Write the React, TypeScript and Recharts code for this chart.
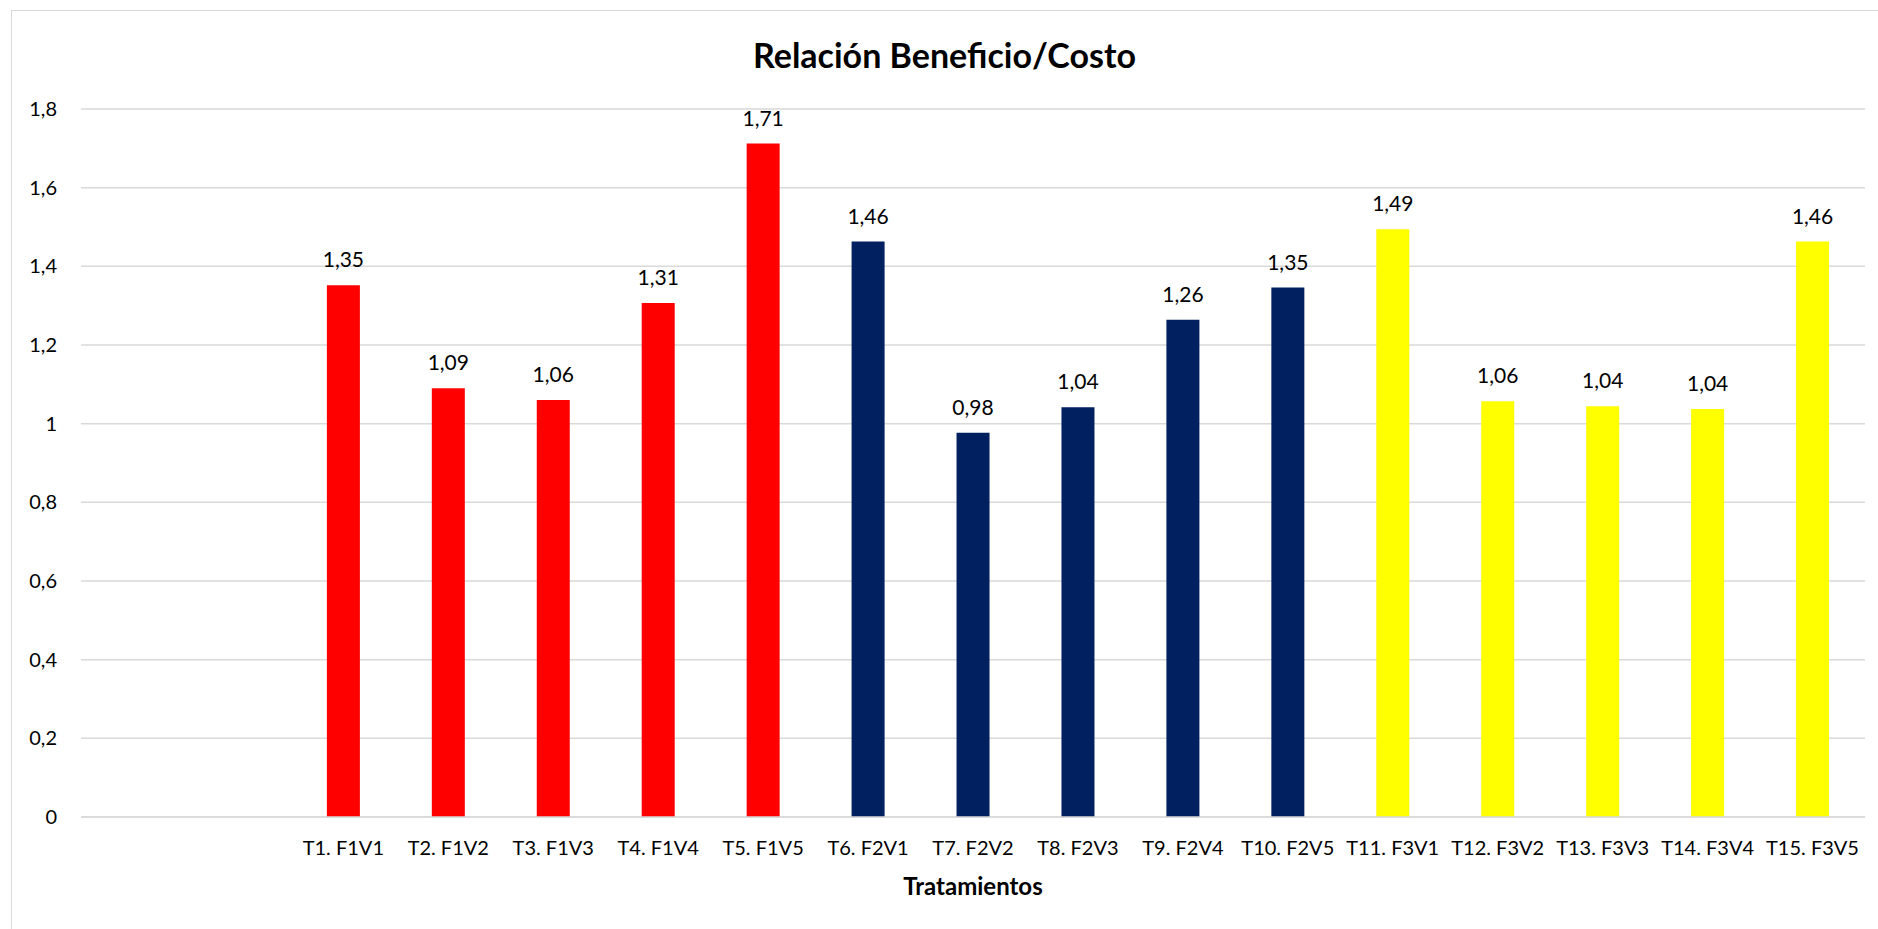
import React from "react";
import { BarChart, Bar, XAxis, YAxis, CartesianGrid, Cell, LabelList, Label } from "recharts";

// two blank slots come first in the original sheet
const treatments = [
  "",
  "",
  "T1. F1V1",
  "T2. F1V2",
  "T3. F1V3",
  "T4. F1V4",
  "T5. F1V5",
  "T6. F2V1",
  "T7. F2V2",
  "T8. F2V3",
  "T9. F2V4",
  "T10. F2V5",
  "T11. F3V1",
  "T12. F3V2",
  "T13. F3V3",
  "T14. F3V4",
  "T15. F3V5",
];

// labels show them rounded to 2 decimals
const ratio: (number | null)[] = [
  null, null,
  1.352, 1.09, 1.06, 1.307, 1.712,
  1.463, 0.977, 1.042, 1.264, 1.346,
  1.494, 1.057, 1.044, 1.037, 1.463,
];

const barColors = [
  "#FF0000", "#FF0000",
  "#FF0000", "#FF0000", "#FF0000", "#FF0000", "#FF0000",
  "#002060", "#002060", "#002060", "#002060", "#002060",
  "#FFFF00", "#FFFF00", "#FFFF00", "#FFFF00", "#FFFF00",
];

const yTicks = [0, 0.2, 0.4, 0.6, 0.8, 1, 1.2, 1.4, 1.6, 1.8];

const FONT = "Lato, 'Open Sans', sans-serif";

const fmt = (v: any) =>
  v === null || v === undefined ? "" : String(v).replace(".", ",");

const fmt2 = (v: any) =>
  v === null || v === undefined ? "" : Number(v).toFixed(2).replace(".", ",");

export default function App() {
  const data = treatments.map((name, i) => ({
    name,
    value: ratio[i],
    color: barColors[i],
  }));

  return (
    <div style={{ position: "relative", width: 1878, height: 929, fontFamily: FONT, background: "#fff" }}>
      <style>{`body{margin:0}`}</style>
      <div
        style={{
          position: "absolute",
          left: 11,
          top: 10,
          width: 1878 - 11,
          height: 929 - 10,
          borderLeft: "1px solid #d9d9d9",
          borderTop: "1px solid #d9d9d9",
          boxSizing: "border-box",
        }}
      />
      <div
        style={{
          position: "absolute",
          left: 11,
          right: 0,
          top: 35,
          textAlign: "center",
          fontSize: 34,
          fontWeight: 700,
          color: "#000",
          lineHeight: "40px",
        }}
      >
        Relación Beneficio/Costo
      </div>
      <div style={{ position: "absolute", left: 0, top: 0 }}>
        <BarChart
          width={1878}
          height={929}
          data={data}
          margin={{ top: 109, right: 13, bottom: 0, left: 0 }}
        >
          <CartesianGrid vertical={false} stroke="#d9d9d9" strokeWidth={1.5} />
          <XAxis
            dataKey="name"
            height={112}
            tickLine={false}
            axisLine={{ stroke: "#d9d9d9", strokeWidth: 1.5 }}
            tickMargin={18}
            interval={0}
            tick={{ fill: "#000", fontSize: 20, fontFamily: FONT }}
          >
            <Label
              value="Tratamientos"
              position="insideBottom"
              offset={34}
              style={{ fill: "#000", fontSize: 24, fontWeight: 700, fontFamily: FONT }}
            />
          </XAxis>
          <YAxis
            width={81}
            domain={[0, 1.8]}
            ticks={yTicks}
            tickFormatter={fmt}
            tickLine={false}
            axisLine={false}
            tickMargin={18}
            tick={{ fill: "#000", fontSize: 20, fontFamily: FONT }}
          />
          <Bar dataKey="value" barSize={33} isAnimationActive={false}>
            {data.map((d, i) => (
              <Cell key={i} fill={d.color} />
            ))}
            <LabelList
              dataKey="value"
              position="top"
              offset={18}
              formatter={fmt2}
              style={{ fill: "#000", fontSize: 21, fontFamily: FONT }}
            />
          </Bar>
        </BarChart>
      </div>
    </div>
  );
}
